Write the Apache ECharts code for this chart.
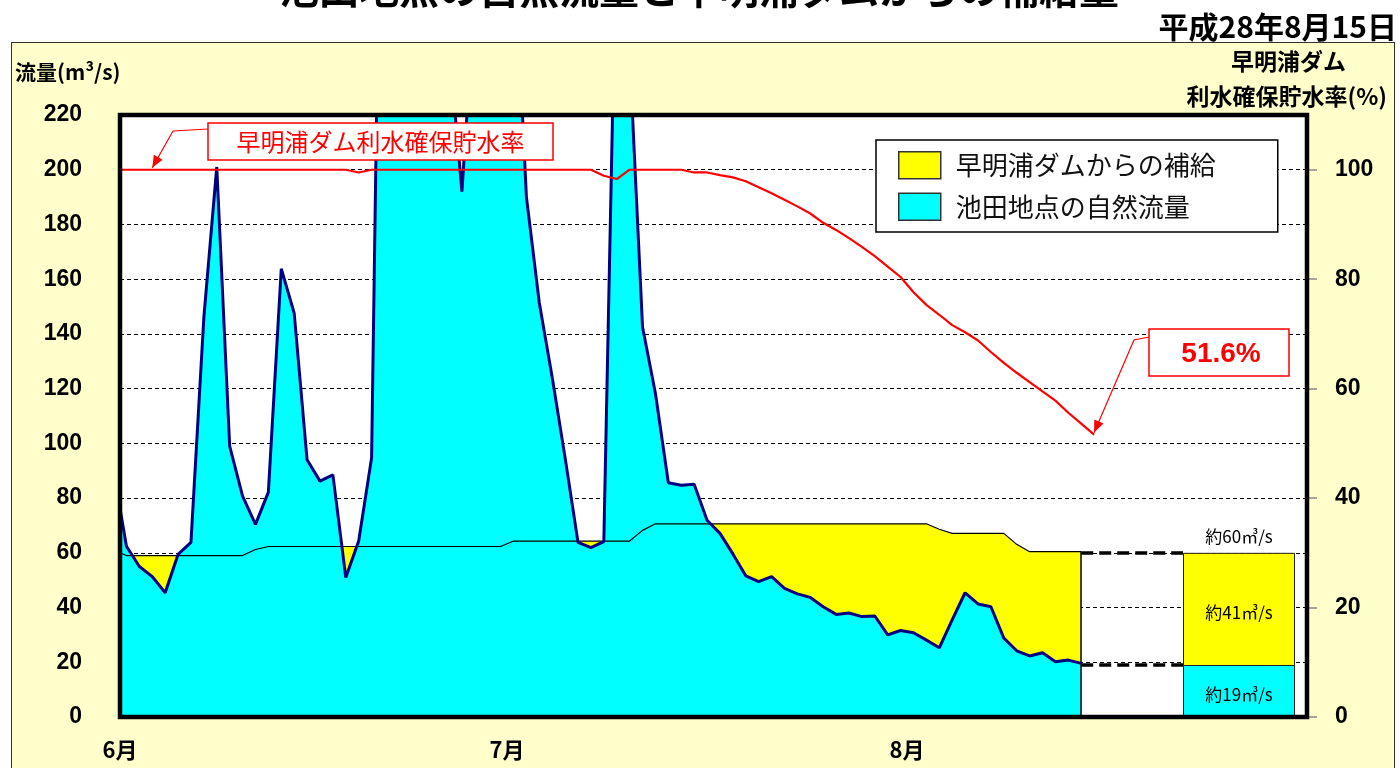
<!DOCTYPE html>
<html><head><meta charset="utf-8">
<script src="https://cdn.jsdelivr.net/npm/echarts@6/dist/echarts.min.js"></script>
<style>
html,body{margin:0;padding:0;background:#fff;}
#wrap{position:relative;width:1400px;height:768px;overflow:hidden;}
#panel{position:absolute;left:11px;top:42px;width:1384px;height:760px;background:#FFFFCC;border:1.5px solid #333;box-sizing:border-box;}
#chart{position:absolute;left:0;top:0;width:1400px;height:768px;}
</style></head><body>
<div id="wrap"><div id="panel"></div><div id="chart"></div></div>
<script>
// ---------------- data ----------------
const monthStartDays = [0, 30, 61];          // days from 6/1
const monthLabels = ['6月', '7月', '8月'];
const firstDayOffset = -1;                   // first daily value is 5/31
// 池田地点の自然流量 (m3/s), daily 5/31 .. 8/14
const naturalFlow = [90, 62.4, 55.0, 51.3, 45.4, 59.4, 63.8, 146, 201, 99, 80.7,
  70.4, 82.2, 163.8, 147.6, 94.0, 86.2, 88.5, 51.0, 64.3, 94.7,
  420, 520, 560, 480, 380, 246, 192, 264, 330, 310,
  287, 190, 151.3, 124.1, 94.7, 63.8, 61.9, 64.1, 295, 242,
  142.5, 118.2, 85.6, 84.7, 85.1, 71.9, 67.1, 59.6, 51.6, 49.5,
  51.3, 47.0, 45.0, 43.7, 40.3, 37.5, 38.0, 36.7, 36.9, 30.0,
  31.6, 30.8, 28.1, 25.3, 35.5, 45.4, 41.3, 40.3, 28.8, 24.2,
  22.3, 23.5, 20.2, 20.8, 19.6];
// 補給後の確保流量 (m3/s), daily 5/31 .. 8/14
const targetFlow = [61, 59, 59, 59, 59, 59, 59, 59, 59, 59, 59,
  61.2, 62.3, 62.3, 62.3, 62.3, 62.3, 62.3, 62.3, 62.3, 62.3,
  62.3, 62.3, 62.3, 62.3, 62.3, 62.3, 62.3, 62.3, 62.3, 62.3,
  64.3, 64.3, 64.3, 64.3, 64.3, 64.3, 64.3, 64.3, 64.3, 64.3,
  68.2, 70.6, 70.6, 70.6, 70.6, 70.6, 70.6, 70.6, 70.6, 70.6,
  70.6, 70.6, 70.6, 70.6, 70.6, 70.6, 70.6, 70.6, 70.6, 70.6,
  70.6, 70.6, 70.6, 68.6, 67.1, 67.1, 67.1, 67.1, 67.1, 63.1,
  60.4, 60.4, 60.4, 60.4, 60.4];
// 早明浦ダム利水確保貯水率 (%), daily 5/31 .. 8/15
const storageRate = [100, 100, 100, 100, 100, 100, 100, 100, 100, 100, 100,
  100, 100, 100, 100, 100, 100, 100, 100, 99.5, 100,
  100, 100, 100, 100, 100, 100, 100, 100, 100, 100,
  100, 100, 100, 100, 100, 100, 100, 98.9, 98.3, 100,
  100, 100, 100, 100, 99.5, 99.5, 99.0, 98.6, 97.9, 96.8,
  95.7, 94.5, 93.3, 92.0, 90.3, 89.0, 87.5, 85.9, 84.2, 82.3,
  80.4, 77.6, 75.3, 73.5, 71.6, 70.3, 68.8, 66.7, 64.7, 62.9,
  61.2, 59.5, 57.8, 55.6, 53.6, 51.6];
const summaryValues = [19, 41];      // 自然流量, ダムからの補給
const summaryTotal = 60;
const summaryTexts = ['約19㎥/s', '約41㎥/s', '約60㎥/s'];
const seriesNames = ['早明浦ダムからの補給', '池田地点の自然流量', '早明浦ダム利水確保貯水率'];

// ---------------- layout constants ----------------
const X_MAX = 92;
const BAR_CENTER_DAY = 86.73;
const BAR_LEFT_DAY = 82.39;
const JP = '"Noto Sans CJK JP", sans-serif';
const NUM = '"Liberation Sans", Arial, sans-serif';

const toXY = arr => arr.map((v, k) => [firstDayOffset + k + 0.5, v]);
const lastFlowX = firstDayOffset + naturalFlow.length - 1 + 0.5;
const barLabel = {fontSize: 17, color: '#000', fontFamily: JP};

const chart = echarts.init(document.getElementById('chart'));
const option = {
  animation: false,
  grid: {left: 120, right: 93, top: 115, bottom: 51, show: true, backgroundColor: '#fff', borderWidth: 0},
  xAxis: {
    type: 'value', min: 0, max: X_MAX,
    axisLine: {show: false}, axisTick: {show: false}, splitLine: {show: false},
    axisLabel: {customValues: monthStartDays, formatter: v => monthLabels[monthStartDays.indexOf(v)] || '',
      margin: 22, fontSize: 22, fontWeight: 'bold', color: '#000', fontFamily: JP}
  },
  yAxis: [{
    type: 'value', min: 0, max: 220, interval: 20,
    axisLine: {show: false}, axisTick: {show: false},
    splitLine: {show: true, lineStyle: {color: '#000', type: [4, 3], width: 1}},
    axisLabel: {margin: 38, fontSize: 23, fontWeight: 'bold', color: '#000', fontFamily: NUM}
  }, {
    type: 'value', position: 'right', min: 0, max: 110, interval: 20,
    axisLine: {show: false}, splitLine: {show: false},
    axisTick: {show: true, length: 10, lineStyle: {color: '#888', width: 1.5}},
    axisLabel: {margin: 28, showMaxLabel: false, fontSize: 23, fontWeight: 'bold', color: '#000', fontFamily: NUM}
  }],
  legend: {
    left: 876, top: 140, orient: 'vertical', selectedMode: false, z: 20,
    data: [{name: seriesNames[0], itemStyle: {color: '#FFFF00'}}, {name: seriesNames[1], itemStyle: {color: '#00FFFF'}}],
    icon: 'rect', itemWidth: 42, itemHeight: 27, itemGap: 13,
    padding: [11, 62, 11, 22], backgroundColor: '#fff', borderColor: '#000', borderWidth: 1.5,
    itemStyle: {borderColor: '#333', borderWidth: 1.5},
    textStyle: {fontSize: 26, color: '#111', fontFamily: JP, padding: [0, 0, 0, 10]}
  },
  series: [
    {name: seriesNames[0], type: 'line', data: toXY(targetFlow), symbol: 'none', silent: true,
      lineStyle: {width: 0, opacity: 0}, itemStyle: {color: '#FFFF00'}, areaStyle: {color: '#FFFF00', opacity: 1}, z: 2},
    {name: seriesNames[1], type: 'line', data: toXY(naturalFlow), symbol: 'none', silent: true,
      lineStyle: {width: 0, opacity: 0}, itemStyle: {color: '#00FFFF'}, areaStyle: {color: '#00FFFF', opacity: 1}, z: 3},
    {name: 'target', type: 'line', data: toXY(targetFlow), symbol: 'none', silent: true,
      lineStyle: {color: '#000', width: 1.2}, z: 4,
      markLine: {symbol: 'none', silent: true, label: {show: false},
        lineStyle: {color: '#000', width: 1.5, type: 'solid'},
        data: [[{coord: [lastFlowX, 0]}, {coord: [lastFlowX, targetFlow[targetFlow.length - 1]]}]]}},
    {name: 'naturalLine', type: 'line', data: toXY(naturalFlow), symbol: 'none', silent: true,
      lineStyle: {color: '#000080', width: 3}, z: 5},
    {name: seriesNames[2], type: 'line', yAxisIndex: 1, data: toXY(storageRate), symbol: 'none', silent: true,
      lineStyle: {color: '#FF0000', width: 2.2}, z: 6},
    // summary bar: total (yellow) with the natural part (cyan) drawn over it
    {name: 'sumTotal', type: 'bar', barWidth: 112, barGap: '-100%', data: [[BAR_CENTER_DAY, summaryTotal]],
      itemStyle: {color: '#FFFF00', borderColor: '#222', borderWidth: 1}, z: 3, silent: true,
      label: Object.assign({show: true, position: 'top', distance: 8, formatter: summaryTexts[2]}, barLabel),
      markLine: {symbol: 'none', silent: true, label: {show: false},
        lineStyle: {color: '#000', width: 3.5, type: [12, 6]},
        data: [[{coord: [lastFlowX, summaryTotal]}, {coord: [BAR_LEFT_DAY, summaryTotal]}],
               [{coord: [lastFlowX, summaryValues[0]]}, {coord: [BAR_LEFT_DAY, summaryValues[0]]}]]}},
    {name: 'sumNatural', type: 'bar', barWidth: 112, barGap: '-100%', data: [[BAR_CENTER_DAY, summaryValues[0]]],
      itemStyle: {color: '#00FFFF', borderColor: '#222', borderWidth: 1}, z: 4, silent: true,
      label: Object.assign({show: true, position: 'inside', formatter: summaryTexts[0], offset: [0, 4]}, barLabel),
      markPoint: {symbol: 'circle', symbolSize: 0, silent: true,
        label: Object.assign({show: true, position: 'inside', formatter: summaryTexts[1], offset: [0, 4]}, barLabel),
        data: [{coord: [BAR_CENTER_DAY, summaryValues[0] + summaryValues[1] / 2]}]}}
  ]
};
chart.setOption(option);

// ---------------- annotations anchored to data ----------------
function arrowHead(from, tip, len, half) {
  const dx = tip[0] - from[0], dy = tip[1] - from[1];
  const l = Math.hypot(dx, dy) || 1;
  const ux = dx / l, uy = dy / l, nx = -uy, ny = ux;
  const bx = tip[0] - ux * len, by = tip[1] - uy * len;
  return [tip, [bx + nx * half, by + ny * half], [bx - nx * half, by - ny * half]];
}
const p00 = chart.convertToPixel({xAxisIndex: 0, yAxisIndex: 0}, [0, 0]);
const p11 = chart.convertToPixel({xAxisIndex: 0, yAxisIndex: 0}, [X_MAX, 220]);
const storXY = toXY(storageRate);
const tip1raw = chart.convertToPixel({xAxisIndex: 0, yAxisIndex: 1}, storXY[3]);
const tip1 = [tip1raw[0], tip1raw[1] - 2];
const lastSt = storXY[storXY.length - 1];
const tip2raw = chart.convertToPixel({xAxisIndex: 0, yAxisIndex: 1}, lastSt);
const tip2 = [tip2raw[0], tip2raw[1] - 2];
const elbow1 = [173, 131], elbow2 = [1134, 340];

chart.setOption({
  graphic: [
    {type: 'rect', z: 10, silent: true, shape: {x: p00[0], y: p11[1], width: p11[0] - p00[0], height: p00[1] - p11[1]},
      style: {fill: 'none', stroke: '#000', lineWidth: 4.5}},
    {type: 'text', z: 30, x: 699, y: -11, silent: true,
      style: {text: '池田地点の自然流量と早明浦ダムからの補給量', fill: '#000', font: 'bold 40px ' + JP, align: 'center', verticalAlign: 'middle'}},
    {type: 'text', z: 30, x: 1397, y: 27, silent: true,
      style: {text: '平成28年8月15日', fill: '#000', font: 'bold 30px ' + JP, align: 'right', verticalAlign: 'middle'}},
    {type: 'text', z: 30, x: 15, y: 72, silent: true,
      style: {text: '流量(m³/s)', fill: '#000', font: 'bold 21px ' + JP, align: 'left', verticalAlign: 'middle'}},
    {type: 'text', z: 30, x: 1346, y: 61, silent: true,
      style: {text: '早明浦ダム', fill: '#000', font: 'bold 23px ' + JP, align: 'right', verticalAlign: 'middle'}},
    {type: 'text', z: 30, x: 1387, y: 96, silent: true,
      style: {text: '利水確保貯水率(%)', fill: '#000', font: 'bold 23px ' + JP, align: 'right', verticalAlign: 'middle'}},
    // label box for storage line
    {type: 'rect', z: 30, silent: true, shape: {x: 208, y: 123, width: 345, height: 37},
      style: {fill: '#fff', stroke: '#FF0000', lineWidth: 1.5}},
    {type: 'text', z: 31, x: 380.5, y: 142, silent: true,
      style: {text: seriesNames[2], fill: '#FF0000', font: '24px ' + JP, align: 'center', verticalAlign: 'middle'}},
    {type: 'polyline', z: 30, silent: true, shape: {points: [[208, 129], elbow1, tip1]},
      style: {stroke: '#FF0000', lineWidth: 1.2, fill: null}},
    {type: 'polygon', z: 30, silent: true, shape: {points: arrowHead(elbow1, tip1, 12, 5)}, style: {fill: '#FF0000'}},
    // 51.6% box
    {type: 'rect', z: 30, silent: true, shape: {x: 1149, y: 329, width: 140, height: 47},
      style: {fill: '#fff', stroke: '#FF0000', lineWidth: 1.5}},
    {type: 'text', z: 31, x: 1221, y: 354, silent: true,
      style: {text: lastSt[1].toFixed(1) + '%', fill: '#FF0000', font: 'bold 28px ' + NUM, align: 'center', verticalAlign: 'middle'}},
    {type: 'polyline', z: 30, silent: true, shape: {points: [[1149, 337], elbow2, tip2]},
      style: {stroke: '#FF0000', lineWidth: 1.2, fill: null}},
    {type: 'polygon', z: 30, silent: true, shape: {points: arrowHead(elbow2, tip2, 12, 5)}, style: {fill: '#FF0000'}}
  ]
});
</script></body></html>
